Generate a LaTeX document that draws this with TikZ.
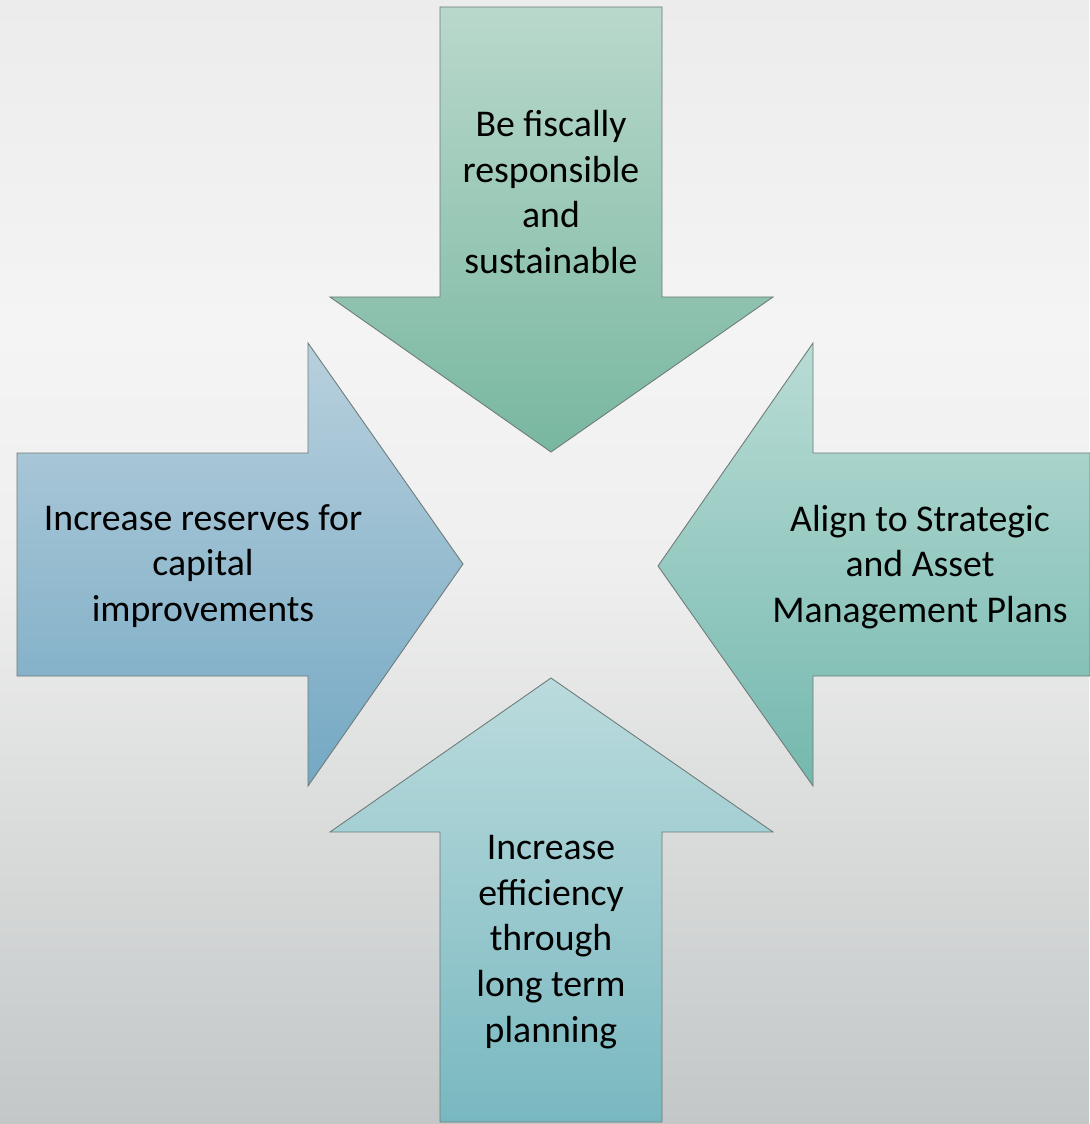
\documentclass[tikz,border=0pt]{standalone}
\usepackage{fontspec}
\setmainfont{Carlito}
\usepackage{tikz}
\usetikzlibrary{positioning}
\definecolor{edgegray}{HTML}{6E7B78}
\definecolor{downtop}{HTML}{B9D8CC}
\definecolor{downbot}{HTML}{78B7A0}
\definecolor{righttop}{HTML}{B8D0DD}
\definecolor{rightbot}{HTML}{74A8C3}
\definecolor{lefttop}{HTML}{B9DCD5}
\definecolor{leftbot}{HTML}{74B8AE}
\definecolor{uptop}{HTML}{BBDBDD}
\definecolor{upbot}{HTML}{78B8C0}
\pgfdeclareverticalshading{bgshade}{100bp}{
	color(0bp)=(rgb,255:red,195;green,199;blue,200);
	color(25bp)=(rgb,255:red,195;green,199;blue,200);
	color(39.5bp)=(rgb,255:red,220;green,222;blue,221);
	color(50bp)=(rgb,255:red,239;green,239;blue,239);
	color(60.5bp)=(rgb,255:red,244;green,244;blue,244);
	color(75bp)=(rgb,255:red,235;green,236;blue,235);
	color(100bp)=(rgb,255:red,235;green,236;blue,235)}

\begin{document}
\begin{tikzpicture}[x=0.02cm,y=-0.02cm,
	arrow_shape/.style={draw=edgegray,line width=0.5pt},
	arrow_text/.style={align=center,font=\fontsize{21.5}{26}\selectfont,inner sep=0pt}]
				\useasboundingbox (0,0) rectangle (1089,1124);
				\fill[shading=bgshade] (0,0) rectangle (1089,1124);
				% down
				\draw[arrow_shape,top color=downtop,bottom color=downbot] (440,7) -- (662,7) -- (662,297) -- (773,297) -- (551,452) -- (330,297) -- (440,297) -- cycle;
				% right
				\draw[arrow_shape,top color=righttop,bottom color=rightbot] (17,453) -- (308,453) -- (308,343) -- (463,564) -- (308,786) -- (308,676) -- (17,676) -- cycle;
				% left
				\draw[arrow_shape,top color=lefttop,bottom color=leftbot] (1090,453) -- (813,453) -- (813,343) -- (658,566) -- (813,786) -- (813,676) -- (1090,676) -- cycle;
				% up
				\draw[arrow_shape,top color=uptop,bottom color=upbot] (551,678) -- (773,832) -- (662,832) -- (662,1122) -- (440,1122) -- (440,832) -- (330,832) -- cycle;
				\node[arrow_text](1) at (551,192){Be fiscally\\responsible\\and\\sustainable};
				\node[arrow_text](2) at (203,566){Increase reserves for\\capital\\improvements};
				\node[arrow_text](3) at (920,567){Align to Strategic\\and Asset\\Management Plans};
				\node[arrow_text](4) at (551,942){Increase\\efficiency\\through\\long term\\planning};
			\end{tikzpicture}
\end{document}
